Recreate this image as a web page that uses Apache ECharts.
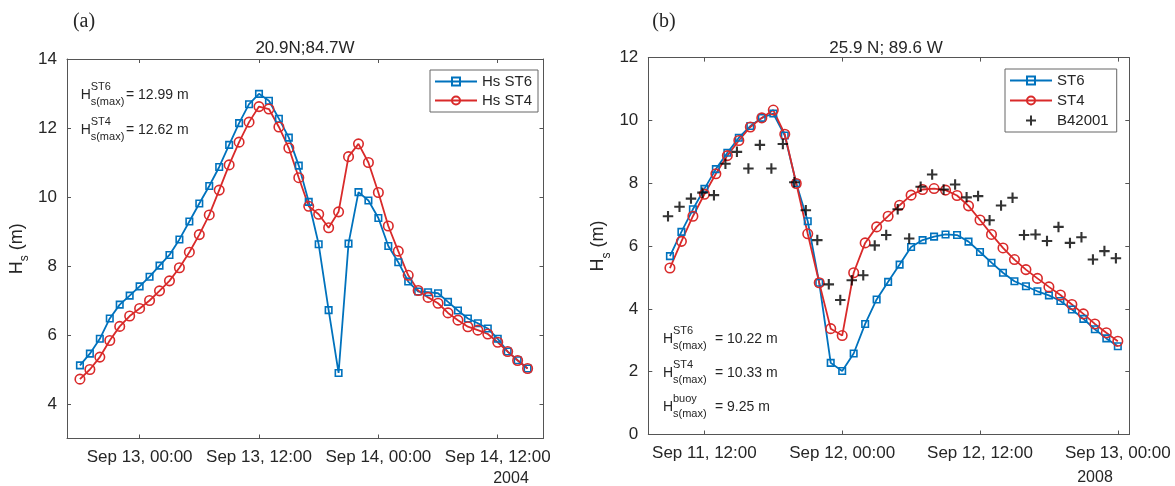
<!DOCTYPE html>
<html><head><meta charset="utf-8">
<script src="https://cdn.jsdelivr.net/npm/echarts@6/dist/echarts.min.js"></script>
<style>html,body{margin:0;padding:0;background:#fff}#c{width:1175px;height:486px}</style>
</head><body><div id="c"></div>
<script>
// ---------- Panel (a): 20.9N;84.7W, September 2004 (times as 'DD HH:MM') ----------
const leftTimes = [
 '12 18:00','12 19:00','12 20:00','12 21:00','12 22:00','12 23:00',
 '13 00:00','13 01:00','13 02:00','13 03:00','13 04:00','13 05:00','13 06:00','13 07:00','13 08:00','13 09:00','13 10:00','13 11:00',
 '13 12:00','13 13:00','13 14:00','13 15:00','13 16:00','13 17:00','13 18:00','13 19:00','13 20:00','13 21:00','13 22:00','13 23:00',
 '14 00:00','14 01:00','14 02:00','14 03:00','14 04:00','14 05:00','14 06:00','14 07:00','14 08:00','14 09:00','14 10:00','14 11:00',
 '14 12:00','14 13:00','14 14:00','14 15:00'];
const leftST6 = [5.12,5.46,5.89,6.48,6.88,7.14,7.41,7.69,8.01,8.32,8.77,9.29,9.81,10.32,10.87,11.51,12.14,12.69,12.99,12.79,12.27,11.72,10.91,9.86,8.63,6.72,4.90,8.65,10.14,9.90,9.39,8.58,8.11,7.55,7.26,7.24,7.21,6.96,6.71,6.48,6.34,6.19,5.89,5.52,5.27,5.03];
const leftST4 = [4.72,5.00,5.36,5.84,6.25,6.55,6.77,7.00,7.28,7.57,7.95,8.40,8.91,9.48,10.20,10.93,11.59,12.17,12.62,12.55,12.03,11.42,10.56,9.73,9.50,9.11,9.57,11.17,11.54,11.00,10.13,9.16,8.43,7.73,7.29,7.09,6.92,6.64,6.43,6.24,6.14,6.03,5.79,5.52,5.26,5.03];
const leftTickTimes = ['13 00:00','13 12:00','14 00:00','14 12:00'];
const leftTickLabels = ['Sep 13, 00:00','Sep 13, 12:00','Sep 14, 00:00','Sep 14, 12:00'];
const leftXRange = ['12 16:42','14 16:36'];
const leftYTicks = [4,6,8,10,12,14];
const leftYRange = [3,14];

// ---------- Panel (b): 25.9 N; 89.6 W, September 2008 ----------
const rightTimes = [
 '11 09:00','11 10:00','11 11:00','11 12:00','11 13:00','11 14:00','11 15:00','11 16:00','11 17:00','11 18:00','11 19:00','11 20:00','11 21:00','11 22:00','11 23:00',
 '12 00:00','12 01:00','12 02:00','12 03:00','12 04:00','12 05:00','12 06:00','12 07:00','12 08:00','12 09:00','12 10:00','12 11:00',
 '12 12:00','12 13:00','12 14:00','12 15:00','12 16:00','12 17:00','12 18:00','12 19:00','12 20:00','12 21:00','12 22:00','12 23:00',
 '13 00:00'];
const rightST6 = [5.68,6.45,7.17,7.82,8.45,8.97,9.45,9.82,10.08,10.22,9.52,8.00,6.79,4.83,2.28,2.02,2.58,3.52,4.30,4.86,5.41,5.97,6.19,6.30,6.37,6.35,6.14,5.81,5.47,5.15,4.88,4.72,4.56,4.43,4.25,3.98,3.68,3.35,3.06,2.81];
const rightST4 = [5.30,6.15,6.95,7.65,8.30,8.88,9.36,9.79,10.08,10.33,9.56,7.99,6.39,4.83,3.37,3.15,5.15,6.10,6.61,6.95,7.30,7.62,7.80,7.83,7.78,7.61,7.28,6.83,6.37,5.94,5.57,5.25,4.97,4.70,4.44,4.14,3.84,3.52,3.24,2.97];
const buoyTimes = [
 '11 08:50','11 09:50','11 10:50','11 11:50','11 12:50','11 13:50','11 14:50','11 15:50','11 16:50','11 17:50','11 18:50','11 19:50','11 20:50','11 21:50','11 22:50','11 23:50',
 '12 00:50','12 01:50','12 02:50','12 03:50','12 04:50','12 05:50','12 06:50','12 07:50','12 08:50','12 09:50','12 10:50','12 11:50',
 '12 12:50','12 13:50','12 14:50','12 15:50','12 16:50','12 17:50','12 18:50','12 19:50','12 20:50','12 21:50','12 22:50','12 23:50'];
const buoyB42001 = [6.95,7.25,7.51,7.70,7.62,8.62,9.00,8.47,9.22,8.47,9.25,8.03,7.14,6.19,4.78,4.28,4.91,5.07,6.02,6.35,7.17,6.24,7.89,8.28,7.80,7.96,7.55,7.59,6.82,7.29,7.54,6.35,6.37,6.16,6.61,6.10,6.28,5.57,5.84,5.61];
const rightTickTimes = ['11 12:00','12 00:00','12 12:00','13 00:00'];
const rightTickLabels = ['Sep 11, 12:00','Sep 12, 00:00','Sep 12, 12:00','Sep 13, 00:00'];
const rightXRange = ['11 07:07','13 01:00'];
const rightYTicks = [0,2,4,6,8,10,12];
const rightYRange = [0,12];

// ---------- helpers ----------
function ms(year, s){ const p = s.split(' '); const hm = p[1].split(':'); return Date.UTC(year, 8, +p[0], +hm[0], +hm[1]); }
function pairs(year, times, vals){ return times.map((t,i)=>[ms(year,t), vals[i]]); }

const BLUE = '#0072BD', RED = '#D92A2A', TXT = '#262626', AX = '#555555';
const FONT = '"Liberation Sans", Arial, Helvetica, sans-serif';
const SERIF = '"Liberation Serif", "Times New Roman", serif';
const PLUS = 'path://M4,0H6V4H10V6H6V10H4V6H0V4H4Z';

function xAxes(grid, year, range, tickT, tickL){
  const tv = tickT.map(t=>ms(year,t));
  const min = ms(year, range[0]), max = ms(year, range[1]);
  const line = {show:true, onZero:false, lineStyle:{color:AX, width:1}};
  const fmt = v => { const i = tv.findIndex(t=>Math.abs(t-v)<1000); return i>=0 ? tickL[i] : ''; };
  return [
    {gridIndex:grid, type:'value', position:'bottom', min, max, axisLine:line,
     axisTick:{show:true, inside:true, length:4, customValues:tv, lineStyle:{color:AX}},
     axisLabel:{show:true, customValues:tv, formatter:fmt, margin:10, fontSize:17, color:TXT, fontFamily:FONT},
     splitLine:{show:false}},
    {gridIndex:grid, type:'value', position:'top', min, max, axisLine:line,
     axisTick:{show:true, inside:true, length:4, customValues:tv, lineStyle:{color:AX}},
     axisLabel:{show:false}, splitLine:{show:false}}
  ];
}
function yAxes(grid, range, ticks){
  const line = {show:true, onZero:false, lineStyle:{color:AX, width:1}};
  return [
    {gridIndex:grid, type:'value', position:'left', min:range[0], max:range[1], axisLine:line,
     axisTick:{show:true, inside:true, length:4, customValues:ticks, lineStyle:{color:AX}},
     axisLabel:{show:true, customValues:ticks, margin:10, fontSize:17, color:TXT, fontFamily:FONT},
     splitLine:{show:false},
     name:'{h|H}{s|s}{h| (m)}', nameLocation:'middle', nameGap:36, nameRotate:90,
     nameTextStyle:{color:TXT, fontFamily:FONT, rich:{
       h:{fontSize:18, lineHeight:23, verticalAlign:'top', color:TXT, fontFamily:FONT},
       s:{fontSize:12, lineHeight:12, verticalAlign:'bottom', color:TXT, fontFamily:FONT}}}},
    {gridIndex:grid, type:'value', position:'right', min:range[0], max:range[1], axisLine:line,
     axisTick:{show:true, inside:true, length:4, customValues:ticks, lineStyle:{color:AX}},
     axisLabel:{show:false}, splitLine:{show:false}}
  ];
}
function lineSeries(name, xi, yi, data, color, symbol, size){
  return {type:'line', name, xAxisIndex:xi, yAxisIndex:yi, data, symbol, symbolSize:size,
    showSymbol:true, showAllSymbol:true, clip:true,
    lineStyle:{color, width:1.8},
    itemStyle:{color:'rgba(255,255,255,0)', borderColor:color, borderWidth:1.6},
    emphasis:{disabled:true}, animation:false};
}
function txt(x, y, text, size, opts){
  return Object.assign({type:'text', x, y, silent:true,
    style:Object.assign({text, fill:TXT, fontSize:size, fontFamily:FONT, align:'left', verticalAlign:'middle'}, (opts||{}))});
}
function anno(x, y, sup, sub, rest, restX){
  return [txt(x, y, 'H', 14), txt(x+10, y-8, sup, 11), txt(x+10, y+7, sub, 11), txt(restX, y, rest, 14)];
}

const chart = echarts.init(document.getElementById('c'), null, {renderer:'canvas'});
chart.setOption({
  animation:false,
  backgroundColor:'#fff',
  grid:[
    {left:67, top:59, right:631.5, bottom:47.5, containLabel:false},
    {left:648.3, top:57.6, right:45.7, bottom:51.5, containLabel:false}
  ],
  xAxis:[].concat(xAxes(0, 2004, leftXRange, leftTickTimes, leftTickLabels),
                  xAxes(1, 2008, rightXRange, rightTickTimes, rightTickLabels)),
  yAxis:[].concat(yAxes(0, leftYRange, leftYTicks), yAxes(1, rightYRange, rightYTicks)),
  legend:[
    {data:['Hs ST6','Hs ST4'], orient:'vertical', left:430, top:70, itemWidth:42, itemHeight:10, itemGap:4,
     padding:[4,6,4,4], borderColor:'#666', borderWidth:1, backgroundColor:'#fff', selectedMode:false,
     textStyle:{fontSize:15, lineHeight:15, color:TXT, fontFamily:FONT}},
    {data:['ST6','ST4',{name:'B42001', icon:PLUS}], orient:'vertical', left:1005, top:69, itemWidth:42, itemHeight:10, itemGap:5,
     padding:[4,8,4,4], borderColor:'#666', borderWidth:1, backgroundColor:'#fff', selectedMode:false,
     textStyle:{fontSize:15, lineHeight:15, color:TXT, fontFamily:FONT}}
  ],
  series:[
    lineSeries('Hs ST6', 0, 0, pairs(2004, leftTimes, leftST6), BLUE, 'rect', 6.5),
    lineSeries('Hs ST4', 0, 0, pairs(2004, leftTimes, leftST4), RED, 'circle', 9.5),
    lineSeries('ST6', 2, 2, pairs(2008, rightTimes, rightST6), BLUE, 'rect', 6.5),
    lineSeries('ST4', 2, 2, pairs(2008, rightTimes, rightST4), RED, 'circle', 9.5),
    {type:'scatter', name:'B42001', xAxisIndex:2, yAxisIndex:2, data:pairs(2008, buoyTimes, buoyB42001),
     symbol:PLUS, symbolSize:10.5, itemStyle:{color:'#000'}, emphasis:{disabled:true}, animation:false, z:5}
  ],
  graphic:[].concat(
    [txt(84, 22, '(a)', 20, {align:'center', fontFamily:SERIF}),
     txt(664, 22, '(b)', 20, {align:'center', fontFamily:SERIF}),
     txt(305, 48, '20.9N;84.7W', 17, {align:'center'}),
     txt(886, 48, '25.9 N; 89.6 W', 17, {align:'center'}),
     txt(511, 479, '2004', 16, {align:'center'}),
     txt(1095, 478, '2008', 16, {align:'center'})],
    anno(80.7, 95, 'ST6', 's(max)', '= 12.99 m', 126),
    anno(80.7, 130, 'ST4', 's(max)', '= 12.62 m', 126),
    anno(663, 339, 'ST6', 's(max)', '= 10.22 m', 715),
    anno(663, 373, 'ST4', 's(max)', '= 10.33 m', 715),
    anno(663, 407, 'buoy', 's(max)', '= 9.25 m', 715)
  )
});
</script></body></html>
